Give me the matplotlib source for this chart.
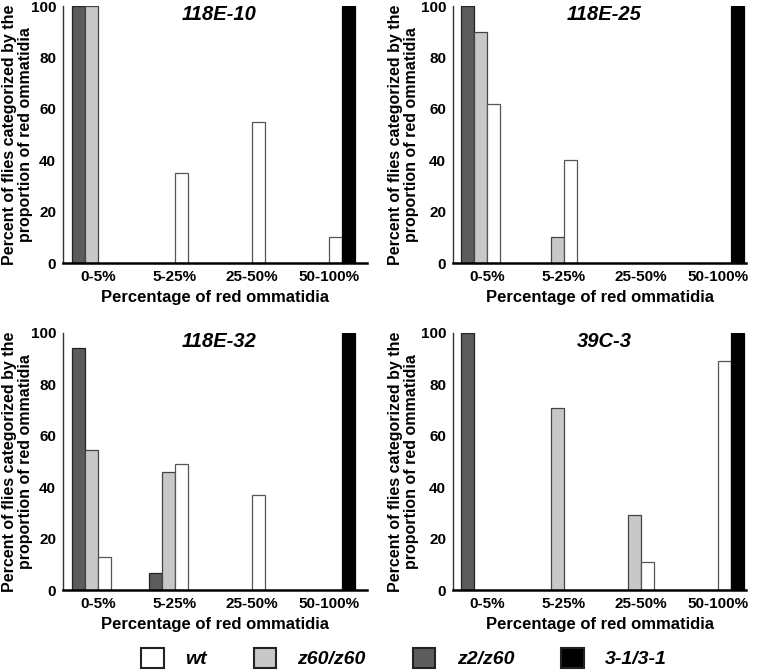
import matplotlib
matplotlib.use("Agg")
import matplotlib.pyplot as plt
from matplotlib.patches import Patch
import numpy as np

plt.rcParams['font.family'] = ['Liberation Sans', 'DejaVu Sans']
plt.rcParams['font.weight'] = 'bold'

categories = ["0-5%", "5-25%", "25-50%", "50-100%"]
series_names = ["z2/z60", "z60/z60", "wt", "3-1/3-1"]
legend_order = ["wt", "z60/z60", "z2/z60", "3-1/3-1"]

panel_titles = ["118E-10", "118E-25", "118E-32", "39C-3"]

# values per panel, per series (z2/z60, z60/z60, wt, 3-1/3-1)
p1_z2z60 = [100, 0, 0, 0]
p1_z60z60 = [100, 0, 0, 0]
p1_wt = [0, 35, 55, 10]
p1_31 = [0, 0, 0, 100]

p2_z2z60 = [100, 0, 0, 0]
p2_z60z60 = [90, 10, 0, 0]
p2_wt = [62, 40, 0, 0]
p2_31 = [0, 0, 0, 100]

p3_z2z60 = [94, 6.5, 0, 0]
p3_z60z60 = [54.5, 46, 0, 0]
p3_wt = [13, 49, 37, 0]
p3_31 = [0, 0, 0, 100]

p4_z2z60 = [100, 0, 0, 0]
p4_z60z60 = [0, 71, 29, 0]
p4_wt = [0, 0, 11, 89]
p4_31 = [0, 0, 0, 100]

panels = [
    [p1_z2z60, p1_z60z60, p1_wt, p1_31],
    [p2_z2z60, p2_z60z60, p2_wt, p2_31],
    [p3_z2z60, p3_z60z60, p3_wt, p3_31],
    [p4_z2z60, p4_z60z60, p4_wt, p4_31],
]

face = {"z2/z60": "#5c5c5c", "z60/z60": "#c8c8c8", "wt": "#ffffff", "3-1/3-1": "#000000"}
edge = {"z2/z60": "#222222", "z60/z60": "#444444", "wt": "#555555", "3-1/3-1": "#000000"}

W, H = 758, 672
fig = plt.figure(figsize=(W / 100, H / 100), dpi=100)

rects = [
    (63, 6, 304, 257, (-0.455, 3.494), -0.099),
    (453, 6, 293, 257, (-0.44, 3.36), -0.116),
    (63, 333, 304, 257, (-0.455, 3.494), -0.099),
    (453, 333, 293, 257, (-0.44, 3.36), -0.116),
]

bw = 0.166
x = np.arange(len(categories))
offsets = [-1.5, -0.5, 0.5, 1.5]

for i, (vals, title) in enumerate(zip(panels, panel_titles)):
    l, t, w, h, xl, lab_x = rects[i]
    ax = fig.add_axes([l / W, (H - t - h) / H, w / W, h / H])
    for s, name in enumerate(series_names):
        v = np.array(vals[s], dtype=float)
        m = v > 0
        ax.bar(x[m] + offsets[s] * bw, v[m], width=bw, color=face[name],
               edgecolor=edge[name], linewidth=0.9, zorder=2)
    ax.set_xlim(*xl)
    ax.set_ylim(0, 100)
    ax.set_yticks([0, 20, 40, 60, 80, 100])
    ax.set_xticks(x)
    ax.set_xticklabels(categories)
    ax.tick_params(axis='both', length=0, labelsize=11)
    ax.tick_params(axis='x', pad=5)
    ax.tick_params(axis='y', pad=5)
    for lab in ax.get_xticklabels() + ax.get_yticklabels():
        lab.set_fontweight('bold')
    for sp in ['top', 'right']:
        ax.spines[sp].set_visible(False)
    ax.spines['left'].set_linewidth(1.0)
    ax.spines['left'].set_color('#333333')
    ax.spines['bottom'].set_linewidth(1.8)
    ax.spines['bottom'].set_color('#000000')
    ax.set_xlabel("Percentage of red ommatidia", fontsize=12, fontweight='bold', labelpad=4)
    ax.set_ylabel("Percent of flies categorized by the\nproportion of red ommatidia",
                  fontsize=11.5, fontweight='bold', linespacing=1.05)
    ax.yaxis.set_label_coords(lab_x, 0.5)
    ax.text(0.515, 1.005, title, transform=ax.transAxes, ha='center', va='top',
            fontsize=14.5, fontweight='bold', fontstyle='italic')

handles = [Patch(facecolor=face[n], edgecolor='#222222', linewidth=1.5) for n in legend_order]
leg = fig.legend(handles, legend_order, loc='center', bbox_to_anchor=(0.533, 0.021),
                 ncol=4, frameon=False, handlelength=1.15, handleheight=1.2,
                 handletextpad=1.1, columnspacing=2.42,
                 prop={'size': 14, 'weight': 'bold', 'style': 'italic'})

fig.savefig("out.png", dpi=100)
